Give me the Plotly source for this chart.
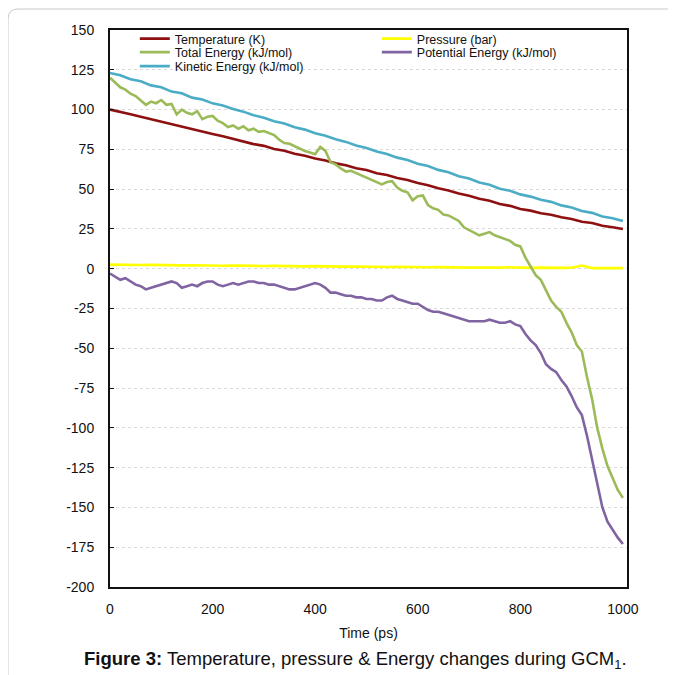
import plotly.graph_objects as go

# ---- data ----
time_fine = [0, 10, 20, 30, 40, 50, 60, 70, 80, 90,
             100, 110, 120, 130, 140, 150, 160, 170, 180, 190,
             200, 210, 220, 230, 240, 250, 260, 270, 280, 290,
             300, 310, 320, 330, 340, 350, 360, 370, 380, 390,
             400, 410, 420, 430, 440, 450, 460, 470, 480, 490,
             500, 510, 520, 530, 540, 550, 560, 570, 580, 590,
             600, 610, 620, 630, 640, 650, 660, 670, 680, 690,
             700, 710, 720, 730, 740, 750, 760, 770, 780, 790,
             800, 810, 820, 830, 840, 850, 860, 870, 880, 890,
             900, 910, 920, 930, 940, 950, 960, 970, 980, 990, 1000]

time_coarse = [0, 20, 40, 60, 80, 100, 120, 140, 160, 180,
               200, 220, 240, 260, 280, 300, 320, 340, 360, 380,
               400, 420, 440, 460, 480, 500, 520, 540, 560, 580,
               600, 620, 640, 660, 680, 700, 720, 740, 760, 780,
               800, 820, 840, 860, 880, 900, 920, 940, 960, 980, 1000]

temperature = [100, 98.7, 97.0, 95.5, 93.9, 92.4, 90.8, 89.3, 87.8, 86.2,
               84.7, 83.2, 81.6, 80.2, 78.3, 77.2, 75.2, 74.1, 72.3, 71.0,
               69.2, 68.0, 66.2, 65.0, 63.1, 62.0, 60.0, 58.9, 57.0, 55.8,
               53.8, 52.5, 50.5, 49.2, 47.3, 45.9, 44.0, 42.7, 40.6, 39.5,
               37.5, 36.5, 34.9, 33.9, 32.3, 31.3, 29.5, 28.7, 27.0, 26.0, 25.0]

pressure = [2.6, 2.4, 2.5, 2.3, 2.4, 2.2, 2.3, 2.1, 2.2, 2.0,
            2.1, 1.9, 2.0, 1.8, 1.9, 1.7, 1.8, 1.6, 1.7, 1.5,
            1.6, 1.4, 1.5, 1.3, 1.4, 1.2, 1.3, 1.1, 1.2, 1.0,
            1.1, 0.9, 1.0, 0.8, 0.9, 0.7, 0.8, 0.6, 0.7, 0.9,
            0.6, 0.5, 0.7, 0.4, 0.5, 0.6, 2.0, 0.4, 0.5, 0.3, 0.4]

total_energy = [120, 117, 114, 112.5, 110, 108.5, 106, 103, 105, 104,
                106, 103, 103.5, 97, 100, 98, 97, 99, 94, 95.5,
                96, 93, 91.5, 89, 90, 88, 89.5, 87, 88, 86,
                86.5, 85, 84, 81, 79, 78.5, 77, 75, 74, 73,
                72, 76.5, 74, 67, 65.5, 63, 61, 61.5, 60, 59,
                57, 55.5, 54, 53, 54.5, 55, 51, 49, 48, 43,
                45.5, 46, 40, 38, 37, 34, 33.5, 32, 30, 26,
                24.5, 23, 21, 22, 23, 21, 20, 19, 17.5, 15,
                14, 7, 1.5, -4, -7, -14, -20, -24, -27, -34,
                -40, -48, -52, -68, -82, -100, -113, -124, -132, -139, -144]

potential_energy = [-3, -5, -7, -6, -8, -10, -11, -13, -12, -11,
                    -10, -9, -8, -9, -12, -11, -10, -11, -9, -8,
                    -8, -10, -11, -10, -9, -10, -9, -8, -8, -9,
                    -9, -10, -10, -11, -12, -13, -13, -12, -11, -10,
                    -9, -10, -12, -15, -15, -16, -17, -17, -18, -18,
                    -19, -19, -20, -20, -18, -17, -19, -20, -21, -22,
                    -22, -24, -26, -27, -27, -28, -29, -30, -31, -32,
                    -33, -33, -33, -33, -32, -33, -34, -34, -33, -35,
                    -36, -41, -45, -48, -53, -60, -63, -65, -70, -74,
                    -80, -87, -92, -105, -120, -135, -150, -159, -164, -169, -173]

kinetic_energy = [123, 121.6, 119.0, 117.8, 115.2, 114.0, 111.3, 110.2, 107.5, 106.3,
                  103.9, 102.6, 100.3, 98.7, 96.5, 94.9, 92.7, 91.2, 88.9, 87.4,
                  85.1, 83.6, 81.3, 79.7, 77.4, 75.9, 73.6, 72.1, 69.8, 68.3,
                  66.0, 64.5, 62.1, 60.6, 58.1, 56.7, 54.2, 52.8, 50.2, 49.0,
                  46.7, 45.3, 43.3, 42.0, 39.8, 38.5, 36.3, 35.1, 32.8, 31.7, 30.0]

x_ticks = [0, 200, 400, 600, 800, 1000]
y_ticks = [150, 125, 100, 75, 50, 25, 0, -25, -50, -75, -100, -125, -150, -175, -200]
y_tick_text = ["150", "125", "100", "75", "50", "25", "0", "-25", "-50", "-75",
               "-100", "-125", "-150", "-175", "-200"]

# ---- figure ----
LW = 2.6
fig = go.Figure()
fig.add_trace(go.Scatter(x=time_coarse, y=temperature, mode="lines", name="Temperature (K)",
                         line=dict(color="#8e1010", width=LW), legend="legend"))
fig.add_trace(go.Scatter(x=time_coarse, y=pressure, mode="lines", name="Pressure (bar)",
                         line=dict(color="#ffff00", width=LW), legend="legend"))
fig.add_trace(go.Scatter(x=time_fine, y=total_energy, mode="lines", name="Total Energy (kJ/mol)",
                         line=dict(color="#9bbb59", width=LW), legend="legend2"))
fig.add_trace(go.Scatter(x=time_fine, y=potential_energy, mode="lines", name="Potential Energy (kJ/mol)",
                         line=dict(color="#8064a2", width=LW), legend="legend2"))
fig.add_trace(go.Scatter(x=time_coarse, y=kinetic_energy, mode="lines", name="Kinetic Energy (kJ/mol)",
                         line=dict(color="#4bacc6", width=LW), legend="legend3"))

tick_font = dict(family="Liberation Sans, Arial, sans-serif", size=14, color="#111")
leg_font = dict(family="Liberation Sans, Arial, sans-serif", size=12.5, color="#111")

def leg(y):
    return dict(orientation="h", x=0.048, xanchor="left", y=y, yanchor="middle",
                bgcolor="rgba(0,0,0,0)", font=leg_font, entrywidth=197,
                entrywidthmode="pixels", itemwidth=30)

fig.update_layout(
    width=676, height=675,
    margin=dict(l=102, r=57, t=22, b=96),
    paper_bgcolor="white", plot_bgcolor="white",
    legend=leg(0.9838), legend2=leg(0.9596), legend3=leg(0.9345),
    xaxis=dict(range=[0, 1008], tickvals=x_ticks, ticks="", showgrid=False, zeroline=False,
               showline=True, mirror=True, linecolor="#111", linewidth=2,
               tickfont=tick_font, ticklabelstandoff=8,
               title=dict(text="Time (ps)", font=dict(family="Liberation Sans, Arial", size=14, color="#111"), standoff=12)),
    xaxis2=dict(overlaying="x", anchor="free", position=200 / 350, range=[0, 1008],
                showline=True, linecolor="#111", linewidth=1.5, ticks="inside", ticklen=3,
                tickcolor="#111", dtick=50, tick0=0, showticklabels=False, showgrid=False, zeroline=False),
    yaxis=dict(range=[-200, 150], tickvals=y_ticks, ticktext=y_tick_text, ticks="inside", ticklen=4,
               tickcolor="#111", showgrid=True, gridcolor="#d9d9d9", griddash="dot", gridwidth=1,
               zeroline=False, showline=True, mirror=True, linecolor="#111", linewidth=2,
               tickfont=tick_font, ticklabelstandoff=11),
)

# caption
fig.add_annotation(xref="paper", yref="paper", x=0.474, y=-0.131, xanchor="center", yanchor="middle",
                   text="<b>Figure 3:</b> Temperature, pressure &amp; Energy changes during GCM<sub>1</sub>.",
                   showarrow=False, font=dict(family="Liberation Sans, Arial, sans-serif", size=18.5, color="#111"))

# rounded frame of the figure panel
x0 = (8 - 110) / 517
xr = (676 - 110) / 517
yt = (587 - 9) / 557
yb = (587 - 675) / 557
rx = 10 / 517
ry = 10 / 557
fig.add_shape(type="path", xref="paper", yref="paper",
              path=f"M {x0},{yb} L {x0},{yt - ry} Q {x0},{yt} {x0 + rx},{yt} L {xr},{yt}",
              line=dict(color="#c8c8c8", width=1))

fig.write_html("out.html")
